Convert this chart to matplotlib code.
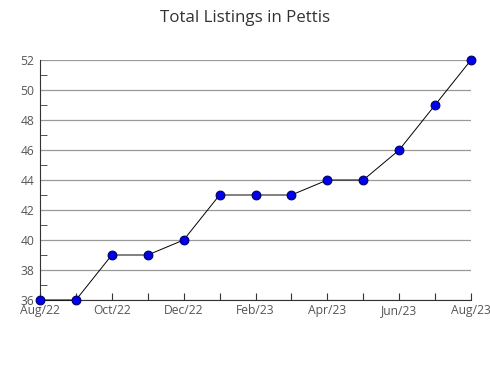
import matplotlib
matplotlib.use('Agg')
import matplotlib.pyplot as plt
from matplotlib.ticker import MultipleLocator

plt.rcParams['font.family'] = ['Open Sans', 'DejaVu Sans']

months = ['Aug/22', 'Sep/22', 'Oct/22', 'Nov/22', 'Dec/22', 'Jan/23', 'Feb/23',
          'Mar/23', 'Apr/23', 'May/23', 'Jun/23', 'Jul/23', 'Aug/23']
listings = [36, 36, 39, 39, 40, 43, 43, 43, 44, 44, 46, 49, 52]

fig = plt.figure(figsize=(4.9, 3.8), dpi=100)
ax = fig.add_axes([40/490, 80/380, 431/490, 240/380])

x = list(range(len(months)))
ax.plot(x, listings, color='black', linewidth=0.7, marker='o', markersize=6.3,
        markerfacecolor='#0000ee', markeredgecolor='#000066', markeredgewidth=0.8,
        clip_on=False, zorder=3)

ax.set_xlim(0, len(months) - 1)
ax.set_ylim(36, 52)
ax.set_xticks(x)
ax.set_xticklabels([m if i % 2 == 0 else '' for i, m in enumerate(months)])
ax.yaxis.set_major_locator(MultipleLocator(2))
ax.yaxis.set_minor_locator(MultipleLocator(1))
ax.grid(axis='y', which='major', color='#999999', linewidth=0.9)
ax.set_axisbelow(True)

for s in ['top', 'right']:
    ax.spines[s].set_visible(False)
for s in ['left', 'bottom']:
    ax.spines[s].set_color('#333333')
    ax.spines[s].set_linewidth(0.8)

ax.tick_params(axis='x', direction='in', length=5, color='#333333',
               labelsize=8.7, labelcolor='#555555', pad=3)
ax.tick_params(axis='y', which='major', direction='in', length=0,
               labelsize=8.7, labelcolor='#555555', pad=4)
ax.tick_params(axis='y', which='minor', direction='in', length=5, color='#333333')

fig.suptitle('Total Listings in Pettis', y=0.975, fontsize=12.2, color='#333333')

fig.savefig('out.png', dpi=100)
